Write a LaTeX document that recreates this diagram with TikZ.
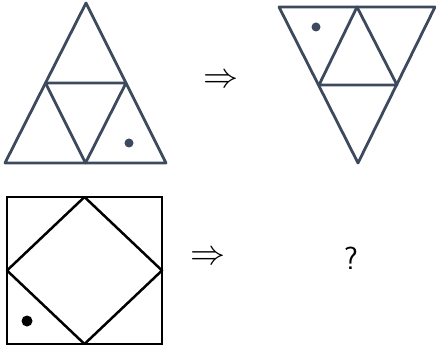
\documentclass[tikz,border=0pt]{standalone}
\usepackage{amssymb}
\usepackage{tikz}
\usetikzlibrary{arrows}

\definecolor{slate}{RGB}{61,74,94}

\begin{document}
\begin{tikzpicture}[x=1pt,y=-1pt]
			\useasboundingbox (0,0) rectangle (436,347);
			% first triangle
			\coordinate (a1) at (86,3);
			\coordinate (a2) at (5,163);
			\coordinate (a3) at (166,163);
			\coordinate (m12) at (45.5,83);
			\coordinate (m13) at (126,83);
			\coordinate (m23) at (85.5,163);
			\draw[color=slate, line width=2.8pt, line join=round](a1) -- (a2) -- (a3) -- cycle;
			\draw[color=slate, line width=2.8pt, line join=round](m12) -- (m13) -- (m23) -- cycle;
			\fill[color=slate](129,143) circle(4.5);
			\node (r1) at (221,81) {\scalebox{3.5}{$\Rightarrow$}};
			% second triangle
			\coordinate (b1) at (279,7);
			\coordinate (b2) at (435,7);
			\coordinate (b3) at (358,163);
			\coordinate (n12) at (357,7);
			\coordinate (n13) at (319,85);
			\coordinate (n23) at (397,85);
			\draw[color=slate, line width=2.8pt, line join=round](b1) -- (b2) -- (b3) -- cycle;
			\draw[color=slate, line width=2.8pt, line join=round](n12) -- (n13) -- (n23) -- cycle;
			\fill[color=slate](316,27) circle(4.5);
			% square
			\coordinate (s1) at (7,197);
			\coordinate (s2) at (162,197);
			\coordinate (s3) at (162,344);
			\coordinate (s4) at (7,344);
			\coordinate (d1) at (84.5,197);
			\coordinate (d2) at (162,270.5);
			\coordinate (d3) at (84.5,344);
			\coordinate (d4) at (7,270.5);
			\draw[line width=2.5pt](s1) -- (s2) -- (s3) -- (s4) -- cycle;
			\draw[line width=2.5pt, line join=round](d1) -- (d2) -- (d3) -- (d4) -- cycle;
			\fill(27,321) circle(5.5);
			\node (r2) at (207.5,258) {\scalebox{3.5}{$\Rightarrow$}};
			\node (q) at (351,258) {\fontsize{32}{32}\selectfont\sffamily ?};
		\end{tikzpicture}
\end{document}
